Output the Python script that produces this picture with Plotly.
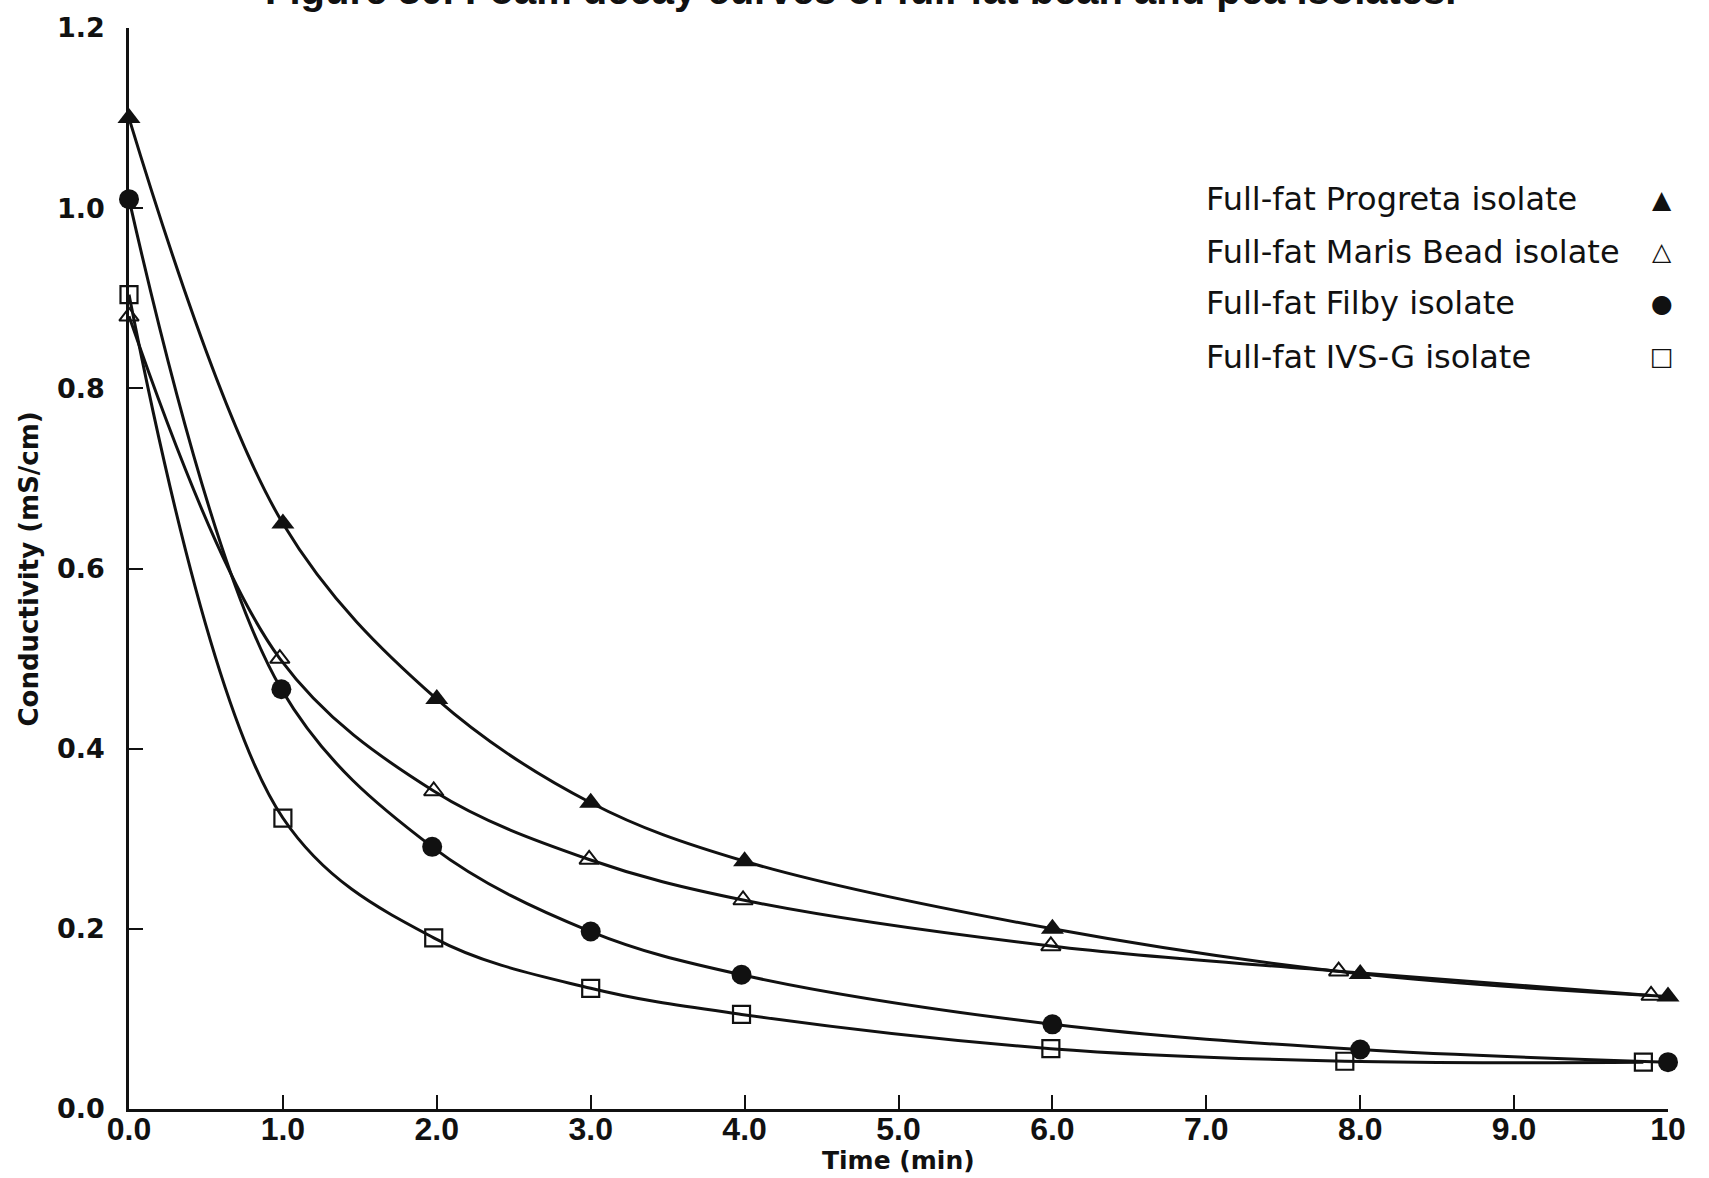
import plotly.graph_objects as go

# Foam decay: conductivity (mS/cm) against time (min)
prog_t = [0.0, 1.0, 2.0, 3.0, 4.0, 6.0, 8.0, 10.0]
prog_c = [1.10, 0.65, 0.455, 0.34, 0.275, 0.20, 0.15, 0.125]

maris_t = [0.0, 0.98, 1.98, 2.99, 3.99, 5.99, 7.86, 9.89]
maris_c = [0.88, 0.50, 0.353, 0.277, 0.232, 0.181, 0.153, 0.126]

filby_t = [0.0, 0.99, 1.97, 3.0, 3.98, 6.0, 8.0, 10.0]
filby_c = [1.01, 0.466, 0.291, 0.197, 0.149, 0.094, 0.066, 0.052]

ivsg_t = [0.0, 1.0, 1.98, 3.0, 3.98, 5.99, 7.9, 9.84]
ivsg_c = [0.904, 0.323, 0.190, 0.134, 0.105, 0.067, 0.053, 0.052]

series_names = [
    "Full-fat Progreta isolate",
    "Full-fat Maris Bead isolate",
    "Full-fat Filby isolate",
    "Full-fat IVS-G isolate",
]
legend_glyphs = ["▲", "△", "●", "□"]

x_tickvals = [0, 1, 2, 3, 4, 5, 6, 7, 8, 9, 10]
x_ticktext = ["0.0", "1.0", "2.0", "3.0", "4.0", "5.0", "6.0", "7.0", "8.0", "9.0", "10"]
y_tickvals = [0.0, 0.2, 0.4, 0.6, 0.8, 1.0, 1.2]
y_ticktext = ["0.0", "0.2", "0.4", "0.6", "0.8", "1.0", "1.2"]

title_text = "Figure 30. Foam decay curves of full-fat bean and pea isolates."
x_title = "Time (min)"
y_title = "Conductivity (mS/cm)"

INK = "#111111"

styles = [
    dict(symbol="triangle-up", size=20, color=INK, line=dict(width=0)),
    dict(symbol="triangle-up-open", size=17, color=INK, line=dict(width=2, color=INK)),
    dict(symbol="circle", size=20, color=INK, line=dict(width=0)),
    dict(symbol="square-open", size=17, color=INK, line=dict(width=2.2, color=INK)),
]

fig = go.Figure()
for (t, c), name, mk in zip(
    [(prog_t, prog_c), (maris_t, maris_c), (filby_t, filby_c), (ivsg_t, ivsg_c)],
    series_names,
    styles,
):
    fig.add_trace(go.Scatter(
        x=t, y=c, name=name, mode="lines+markers",
        line=dict(color=INK, width=3, shape="spline", smoothing=1.0),
        marker=mk, cliponaxis=False, showlegend=False,
    ))

# Legend drawn as text rows with the key glyph on the right
legend_y = [0.8417, 0.793, 0.7454, 0.6958]
for name, glyph, yy in zip(series_names, legend_glyphs, legend_y):
    fig.add_annotation(text=name, xref="paper", yref="paper", x=0.6985, y=yy,
                       xanchor="left", yanchor="middle", showarrow=False,
                       font=dict(family="DejaVu Sans", size=32, color=INK))
    fig.add_annotation(text=glyph, xref="paper", yref="paper", x=0.996, y=yy,
                       xanchor="center", yanchor="middle", showarrow=False,
                       font=dict(family="DejaVu Sans", size=25, color=INK))

fig.add_annotation(text="<b>" + title_text + "</b>", xref="paper", yref="paper",
                   x=0.4756, y=1.013, xanchor="center", yanchor="bottom", showarrow=False,
                   font=dict(family="Liberation Sans", size=40, color=INK))
fig.add_annotation(text="<b>" + x_title + "</b>", xref="paper", yref="paper",
                   x=0.5, y=-0.0477, xanchor="center", yanchor="middle", showarrow=False,
                   font=dict(family="DejaVu Sans", size=25, color=INK))
fig.add_annotation(text="<b>" + y_title + "</b>", xref="paper", yref="paper",
                   x=-0.065, y=0.5, xanchor="center", yanchor="middle", showarrow=False,
                   textangle=-90, font=dict(family="DejaVu Sans", size=26, color=INK))

fig.update_xaxes(
    range=[0, 10], tickvals=x_tickvals, ticktext=x_ticktext,
    ticks="inside", ticklen=14, tickwidth=2, tickcolor=INK,
    showline=True, linecolor=INK, linewidth=2.5, showgrid=False, zeroline=False,
    ticklabelstandoff=-10,
    tickfont=dict(family="Liberation Sans Narrow, Liberation Sans", size=32, color=INK, weight="bold"),
)
fig.update_yaxes(
    range=[0, 1.2], tickvals=y_tickvals, ticktext=y_ticktext,
    ticks="inside", ticklen=14, tickwidth=2, tickcolor=INK,
    showline=True, linecolor=INK, linewidth=2.5, showgrid=False, zeroline=False,
    ticklabelstandoff=16,
    tickfont=dict(family="DejaVu Sans", size=27, color=INK, weight="bold"),
)

fig.update_layout(
    width=1709, height=1178,
    margin=dict(l=129, r=41, t=19, b=69),
    paper_bgcolor="white", plot_bgcolor="white",
    showlegend=False,
)

fig.write_html("out.html")
